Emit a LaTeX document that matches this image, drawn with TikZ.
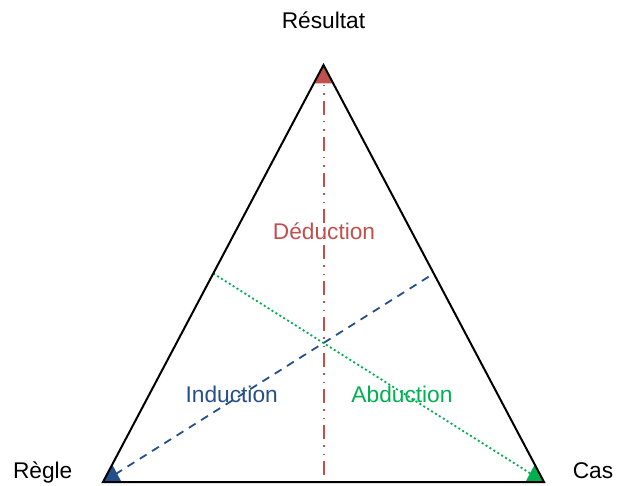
\documentclass[tikz,border=0pt]{standalone}
\usepackage{fontspec}
\setmainfont{Liberation Sans}
\usetikzlibrary{calc}
\definecolor{dred}{HTML}{C0504D}
\definecolor{dblue}{HTML}{254F8A}
\definecolor{dgreen}{HTML}{00B050}
\begin{document}
\begin{tikzpicture}[x=1bp,y=-1bp,
  lbl/.style={inner sep=0pt,anchor=base,font=\fontsize{22.8}{27}\selectfont},
  edgeline/.style={line width=2bp,black,line join=miter}]
\useasboundingbox (0,0) rectangle (617,486);
\coordinate (A) at (323.5,65);
\coordinate (B) at (103,482);
\coordinate (C) at (544,482);
\coordinate (mAB) at ($(A)!0.5!(B)$);
\coordinate (mAC) at ($(A)!0.5!(C)$);
\coordinate (mBC) at ($(B)!0.5!(C)$);
% medians
\draw[draw=dred,line width=2bp,dash pattern=on 14bp off 6bp on 1.5bp off 7bp on 1.5bp off 6bp] (A) -- (mBC);
\draw[draw=dblue,line width=1.8bp,dash pattern=on 8bp off 6.5bp] (B) -- (mAC);
\draw[draw=dgreen,line width=1.8bp,dash pattern=on 2bp off 2.6bp] (mAB) -- (C);
% corner markers
\fill[dred] (A) -- ($(A)!0.044!(B)$) -- ($(A)!0.044!(C)$) -- cycle;
\fill[dblue] (B) -- ($(B)!0.042!(C)$) -- ($(B)!0.042!(A)$) -- cycle;
\fill[dgreen] (C) -- ($(C)!0.042!(B)$) -- ($(C)!0.042!(A)$) -- cycle;
% triangle
\draw[edgeline] (A) -- (B) -- (C) -- cycle;
% labels
\node[lbl] (res) at (323.5,28.3) {Résultat};
\node[lbl] (reg) at (42.7,478.3) {Règle};
\node[lbl] (cas) at (593,478.3) {Cas};
\node[lbl,text=dred] (ded) at (324,239.3) {Déduction};
\node[lbl,text=dblue] (ind) at (231.7,402.7) {Induction};
\node[lbl,text=dgreen] (abd) at (402,402.7) {Abduction};
\end{tikzpicture}
\end{document}
